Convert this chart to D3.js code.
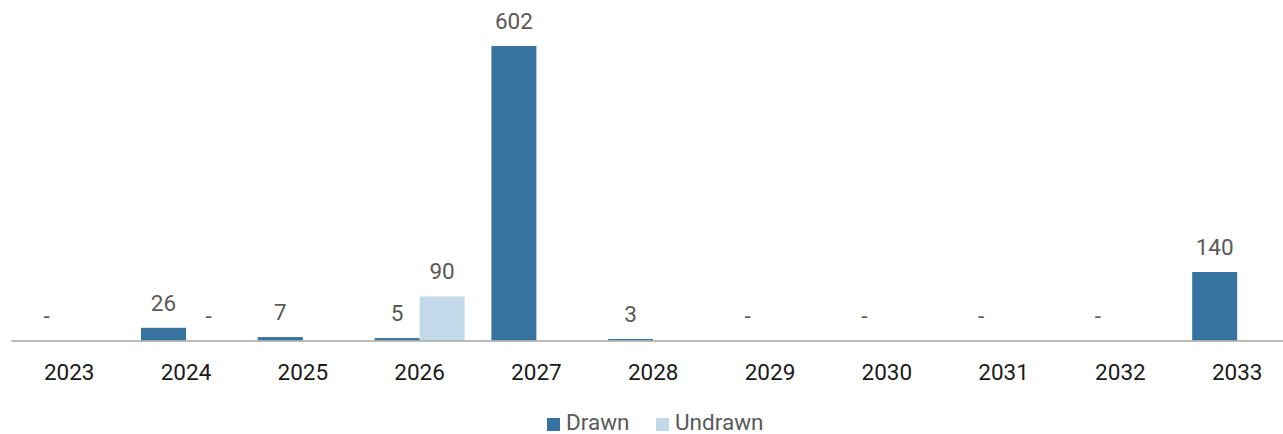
<!DOCTYPE html>
<html>
<head>
<meta charset="utf-8">
<script src="https://cdn.jsdelivr.net/npm/d3@7"></script>
<style>
  html, body { margin: 0; padding: 0; background: #fff; }
  svg { display: block; font-family: Roboto, "Noto Sans", sans-serif; }
</style>
</head>
<body>
<svg id="chart" width="1283" height="434"></svg>
<script>
// Maturity profile by year
const years = ["2023", "2024", "2025", "2026", "2027", "2028", "2029", "2030", "2031", "2032", "2033"];
const drawn = [0, 26, 7, 5, 602, 3, 0, 0, 0, 0, 140];
// null = no label shown for that year
const undrawn = [null, 0, null, 90, null, null, null, null, null, null, null];
const seriesNames = ["Drawn", "Undrawn"];
const seriesColors = ["#36739f", "#c2d9ea"];

const svg = d3.select("#chart");
const baseY = 340.5;
const fontSize = 22.5;

const x = d3.scaleBand().domain(years).range([10.8, 1295.6]).paddingInner(0).paddingOuter(0);
const barW = 45;
const y = d3.scaleLinear().domain([0, 602]).range([baseY, 46]);

const fmt = v => (v === 0 ? "-" : d3.format(",")(v));

const series = [drawn, undrawn];
series.forEach((vals, si) => {
  const g = svg.append("g");
  const data = years.map((yr, i) => ({ yr, v: vals[i] })).filter(d => d.v !== null);
  const bx = d => x(d.yr) + x.bandwidth() / 2 + (si === 0 ? -barW : 0);
  g.selectAll("rect").data(data.filter(d => d.v > 0)).join("rect")
    .attr("x", bx)
    .attr("width", barW)
    .attr("y", d => y(d.v))
    .attr("height", d => baseY - y(d.v))
    .attr("fill", seriesColors[si]);
  g.selectAll("text").data(data).join("text")
    .attr("x", d => bx(d) + barW / 2)
    .attr("y", d => y(d.v) - 17)
    .attr("text-anchor", "middle")
    .attr("font-size", fontSize)
    .attr("fill", "#595959")
    .text(d => fmt(d.v));
});

// Category axis
const axis = d3.axisBottom(x).tickSize(0).tickPadding(0);
const ax = svg.append("g").attr("transform", `translate(0,${baseY})`).call(axis);
ax.select(".domain").attr("stroke", "#a6a6a6").attr("stroke-width", 1.5);
ax.selectAll("text")
  .attr("dy", null)
  .attr("y", 39)
  .attr("font-size", fontSize)
  .attr("font-family", "Roboto, sans-serif")
  .attr("fill", "#1a1a1a");

// Legend
const legendX = [547, 656];
const legend = svg.append("g");
seriesNames.forEach((name, i) => {
  legend.append("rect")
    .attr("x", legendX[i]).attr("y", 418)
    .attr("width", 13).attr("height", 13)
    .attr("fill", seriesColors[i]);
  legend.append("text")
    .attr("x", legendX[i] + 19).attr("y", 430)
    .attr("font-size", fontSize)
    .attr("fill", "#595959")
    .text(name);
});
</script>
</body>
</html>
